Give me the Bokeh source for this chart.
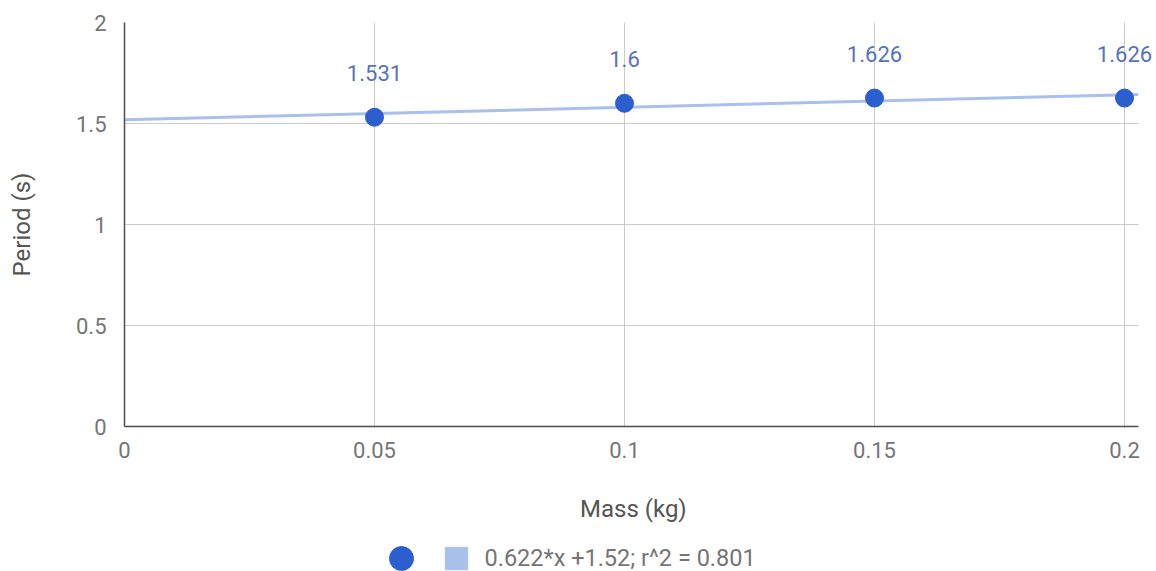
import numpy as np
from bokeh.plotting import figure
from bokeh.layouts import column
from bokeh.models import (Range1d, FixedTicker, NumeralTickFormatter, ColumnDataSource,
                          LabelSet, Legend, LegendItem, BoxAnnotation, Label)
from bokeh.core.properties import value
from bokeh.embed import file_html
from bokeh.resources import INLINE

# ---- data ----
mass_kg = [0.05, 0.10, 0.15, 0.20]
period_s = [1.531, 1.6, 1.626, 1.626]
x_ticks = [0, 0.05, 0.10, 0.15, 0.20]
y_ticks = [0, 0.5, 1, 1.5, 2]
x_title = "Mass (kg)"
y_title = "Period (s)"
trend_label = "0.622*x +1.52; r^2 = 0.801"

slope, intercept = np.polyfit(mass_kg, period_s, 1)

# plotted extent of the chart area (data units) and a little room for labels
X_MAX = 0.2028
X_VIEW = 0.2064

FONT = "Roboto"
PT_COLOR = "#2b5fd0"
TREND_COLOR = "#a9c0ec"
LABEL_COLOR = "#5672bf"
TICK_COLOR = "#757575"
TITLE_COLOR = "#555555"

p = figure(width=1156, height=478, output_backend="svg", toolbar_location=None,
           x_range=Range1d(0, X_VIEW), y_range=Range1d(0, 2),
           min_border_left=124, min_border_right=0, min_border_top=22,
           min_border_bottom=52)
p.outline_line_color = None
p.background_fill_color = "white"
p.border_fill_color = "white"

# grid
p.xgrid.ticker = FixedTicker(ticks=x_ticks)
p.ygrid.ticker = FixedTicker(ticks=y_ticks)
for g in (p.xgrid, p.ygrid):
    g.grid_line_color = "#cccccc"
    g.grid_line_width = 1

# axes
p.xaxis.ticker = FixedTicker(ticks=x_ticks)
p.yaxis.ticker = FixedTicker(ticks=y_ticks)
p.xaxis.formatter = NumeralTickFormatter(format="0.[00]")
p.yaxis.formatter = NumeralTickFormatter(format="0.[0]")
p.xaxis.bounds = (0, X_MAX)
for ax in (p.xaxis, p.yaxis):
    ax.axis_line_color = "#4d4d4d"
    ax.axis_line_width = 1.5
    ax.major_tick_line_color = None
    ax.minor_tick_line_color = None
    ax.major_label_text_font = FONT
    ax.major_label_text_font_size = "22px"
    ax.major_label_text_color = TICK_COLOR
    ax.axis_label_text_font = FONT
    ax.axis_label_text_font_size = "24px"
    ax.axis_label_text_font_style = "normal"
    ax.axis_label_text_color = TITLE_COLOR
p.yaxis.axis_label = y_title
p.xaxis.major_label_standoff = 9
p.yaxis.major_label_standoff = 12
p.yaxis.axis_label_standoff = 37

# trendline across the chart area
tx = np.array([0.0, X_MAX])
ty = slope * tx + intercept
p.line(tx, ty, line_color=TREND_COLOR, line_width=3)

src = ColumnDataSource(dict(x=mass_kg, y=period_s, txt=[str(v) for v in period_s]))
pts = p.scatter("x", "y", source=src, size=18, fill_color=PT_COLOR, line_color=PT_COLOR)

# blank out grid beyond the chart area (room kept only for the last label)
p.add_layout(BoxAnnotation(left=X_MAX, fill_color="white", fill_alpha=1.0,
                           line_alpha=0))

labels = LabelSet(x="x", y="y", text="txt", source=src, y_offset=44,
                  text_align="center", text_baseline="middle",
                  text_font=value(FONT), text_font_size=value("22px"),
                  text_color=LABEL_COLOR)
p.add_layout(labels)

# ---- bottom strip: x-axis title + legend (frame aligned with chart, starts at x=124px) ----
p2 = figure(width=1156, height=93, output_backend="svg", toolbar_location=None,
            x_axis_type=None, y_axis_type=None, min_border=0,
            x_range=Range1d(0, 1), y_range=Range1d(0, 1))
p2.outline_line_color = None
p2.border_fill_color = "white"
p2.background_fill_color = "white"

# x-axis title centred on the chart area
p2.add_layout(Label(x=455.5, y=63, x_units="screen", y_units="screen", text=x_title,
                    text_align="left", text_baseline="middle", text_font=FONT,
                    text_font_size="24px", text_color=TITLE_COLOR))

# legend proxies: same series data, which falls outside this strip's (0..1) view
c_r = p2.scatter("x", "y", source=src, marker="circle",
                 fill_color=PT_COLOR, line_color=PT_COLOR)
s_r = p2.scatter(tx, ty, marker="square", fill_color=TREND_COLOR,
                 line_color=TREND_COLOR)

leg_a = Legend(items=[LegendItem(label=" ", renderers=[c_r])],
               location=(247, -16.5), glyph_width=60, glyph_height=60,
               padding=0, spacing=0, margin=0, label_standoff=0,
               border_line_alpha=0, background_fill_alpha=0,
               label_text_font=FONT, label_text_font_size="23px")
leg_b = Legend(items=[LegendItem(label=trend_label, renderers=[s_r])],
               location=(303.5, -14.5), glyph_width=56, glyph_height=56,
               padding=0, spacing=0, margin=0, label_standoff=1,
               border_line_alpha=0, background_fill_alpha=0,
               label_text_font=FONT, label_text_font_size="23.5px",
               label_text_color=TICK_COLOR, label_text_baseline="middle")
p2.add_layout(leg_a)
p2.add_layout(leg_b)

layout = column(p, p2, spacing=0)
open("out.html", "w").write(file_html(layout, INLINE))
